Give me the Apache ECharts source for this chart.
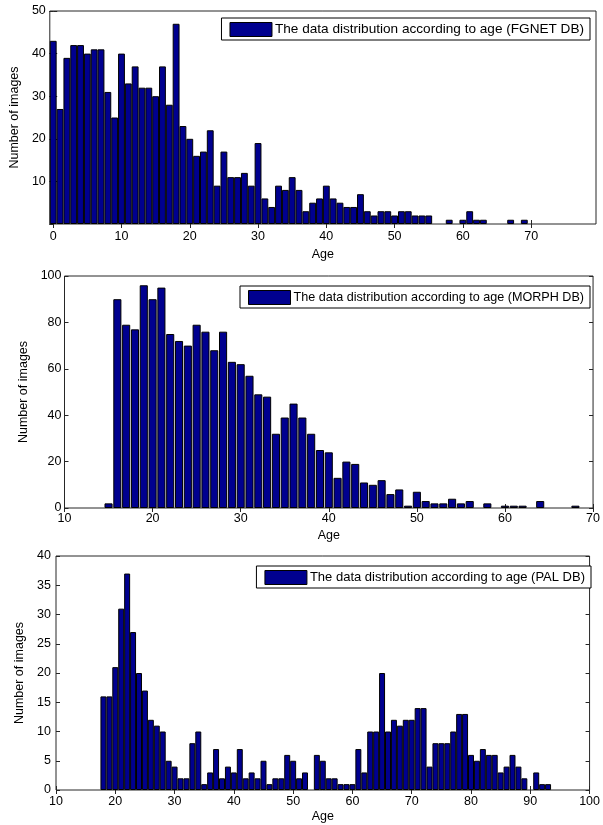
<!DOCTYPE html>
<html>
<head>
<meta charset="utf-8">
<script src="https://cdn.jsdelivr.net/npm/echarts@6/dist/echarts.min.js"></script>
<style>
html,body{margin:0;padding:0;background:#fff;}
#c{width:603px;height:825px;}
</style>
</head>
<body>
<div id="c"></div>
<script>
// ---- Data ----
const fgnetAges = [0,1,2,3,4,5,6,7,8,9,10,11,12,13,14,15,16,17,18,19,20,21,22,23,24,25,26,27,28,29,30,31,32,33,34,35,36,37,38,39,40,41,42,43,44,45,46,47,48,49,50,51,52,53,54,55,56,57,58,59,60,61,62,63,64,65,66,67,68,69];
const fgnetCounts = [43,27,39,42,42,40,41,41,31,25,40,33,37,32,32,30,37,28,47,23,20,16,17,22,9,17,11,11,12,9,19,6,4,9,8,11,8,3,5,6,9,6,5,4,4,7,3,2,3,3,2,3,3,2,2,2,0,0,1,0,1,3,1,1,0,0,0,1,0,1];

const morphAges = [15,16,17,18,19,20,21,22,23,24,25,26,27,28,29,30,31,32,33,34,35,36,37,38,39,40,41,42,43,44,45,46,47,48,49,50,51,52,53,54,55,56,57,58,59,60,61,62,63,64,65,66,67,68];
const morphCounts = [2,90,79,77,96,90,95,75,72,70,79,76,68,76,63,62,57,49,48,32,39,45,39,32,25,24,13,20,19,11,10,12,6,8,1,7,3,2,2,4,2,3,0,2,0,1,1,1,0,3,0,0,0,1];

const palAges = [18,19,20,21,22,23,24,25,26,27,28,29,30,31,32,33,34,35,36,37,38,39,40,41,42,43,44,45,46,47,48,49,50,51,52,53,54,55,56,57,58,59,60,61,62,63,64,65,66,67,68,69,70,71,72,73,74,75,76,77,78,79,80,81,82,83,84,85,86,87,88,89,90,91,92,93];
const palCounts = [16,16,21,31,37,27,20,17,12,11,10,5,4,2,2,8,10,1,3,7,2,4,3,7,2,3,2,5,1,2,2,6,5,2,3,0,6,5,2,2,1,1,1,7,3,10,10,20,10,12,11,12,12,14,14,4,8,8,8,10,13,13,6,5,7,6,6,3,4,6,4,2,0,3,1,1];

const fgnetXTicks = [0,10,20,30,40,50,60,70];
const seriesNames = [
  'The data distribution according to age (FGNET DB)',
  'The data distribution according to age (MORPH DB)',
  'The data distribution according to age (PAL DB)'
];
const xTitle = 'Age';
const yTitle = 'Number of images';

// ---- Chart ----
const FONT = 'Liberation Sans, Arial, sans-serif';
const AX = '#262626';
const BAR = '#00008F';
const chart = echarts.init(document.getElementById('c'), null, {renderer: 'canvas'});

const grids = [
  {left: 48, top: 11, width: 548, height: 213},
  {left: 64.5, top: 276, width: 531, height: 232},
  {left: 56, top: 556, width: 537, height: 234}
].map(g => Object.assign({show: true, borderColor: AX, borderWidth: 1, backgroundColor: '#fff', containLabel: false}, g));

function tick() { return {show: true, inside: true, length: 4, lineStyle: {color: AX, width: 1}}; }
const lbl = (m) => ({color: '#000', fontFamily: FONT, fontSize: 12.5, margin: m});
const nameStyle = {color: '#000', fontFamily: FONT, fontSize: 12.5};

const xAxes = [
  {gridIndex: 0, type: 'value', min: -0.5, max: 79.5, position: 'bottom',
   axisLine: {show: false}, splitLine: {show: false},
   axisTick: Object.assign(tick(), {customValues: fgnetXTicks}),
   axisLabel: Object.assign(lbl(6), {customValues: fgnetXTicks}),
   name: xTitle, nameLocation: 'middle', nameGap: 24, nameTextStyle: nameStyle},
  {gridIndex: 0, type: 'value', min: -0.5, max: 79.5, position: 'top',
   axisLine: {show: false}, splitLine: {show: false},
   axisTick: Object.assign(tick(), {customValues: fgnetXTicks}),
   axisLabel: {show: false}},
  {gridIndex: 1, type: 'value', min: 10, max: 70, interval: 10, position: 'bottom',
   axisLine: {show: false}, splitLine: {show: false}, axisTick: tick(), axisLabel: lbl(4),
   name: xTitle, nameLocation: 'middle', nameGap: 21, nameTextStyle: nameStyle},
  {gridIndex: 1, type: 'value', min: 10, max: 70, interval: 10, position: 'top',
   axisLine: {show: false}, splitLine: {show: false}, axisTick: tick(), axisLabel: {show: false}},
  {gridIndex: 2, type: 'value', min: 10, max: 100, interval: 10, position: 'bottom',
   axisLine: {show: false}, splitLine: {show: false}, axisTick: tick(), axisLabel: lbl(5),
   name: xTitle, nameLocation: 'middle', nameGap: 20, nameTextStyle: nameStyle},
  {gridIndex: 2, type: 'value', min: 10, max: 100, interval: 10, position: 'top',
   axisLine: {show: false}, splitLine: {show: false}, axisTick: tick(), axisLabel: {show: false}}
];

const yAxes = [
  {gridIndex: 0, type: 'value', min: 0, max: 50, interval: 10, position: 'left',
   axisLine: {show: false}, splitLine: {show: false}, axisTick: tick(),
   axisLabel: Object.assign(lbl(4), {showMinLabel: false}),
   name: yTitle, nameLocation: 'middle', nameGap: 27, nameTextStyle: nameStyle},
  {gridIndex: 0, type: 'value', min: 0, max: 50, interval: 10, position: 'right',
   axisLine: {show: false}, splitLine: {show: false}, axisTick: tick(), axisLabel: {show: false}},
  {gridIndex: 1, type: 'value', min: 0, max: 100, interval: 20, position: 'left',
   axisLine: {show: false}, splitLine: {show: false}, axisTick: tick(), axisLabel: lbl(3),
   name: yTitle, nameLocation: 'middle', nameGap: 33, nameTextStyle: nameStyle},
  {gridIndex: 1, type: 'value', min: 0, max: 100, interval: 20, position: 'right',
   axisLine: {show: false}, splitLine: {show: false}, axisTick: tick(), axisLabel: {show: false}},
  {gridIndex: 2, type: 'value', min: 0, max: 40, interval: 5, position: 'left',
   axisLine: {show: false}, splitLine: {show: false}, axisTick: tick(), axisLabel: lbl(5),
   name: yTitle, nameLocation: 'middle', nameGap: 28, nameTextStyle: nameStyle},
  {gridIndex: 2, type: 'value', min: 0, max: 40, interval: 5, position: 'right',
   axisLine: {show: false}, splitLine: {show: false}, axisTick: tick(), axisLabel: {show: false}}
];

function mk(name, ages, counts, xi, yi, bw) {
  return {
    name: name, type: 'bar', xAxisIndex: xi, yAxisIndex: yi,
    data: ages.map((a, i) => counts[i] === 0
      ? {value: [a, counts[i]], itemStyle: {borderWidth: 0, opacity: 0}}
      : {value: [a, counts[i]]}),
    barWidth: bw, barGap: '0%',
    itemStyle: {color: BAR, borderColor: '#000', borderWidth: 1},
    emphasis: {disabled: true}, animation: false
  };
}

function leg(name, top, right, fs) {
  return {
    data: [name], top: top, right: right, orient: 'horizontal',
    icon: 'rect', itemWidth: 42, itemHeight: 14, itemGap: 0,
    padding: [4, 6, 3, 8], borderColor: '#000', borderWidth: 1, backgroundColor: '#fff',
    selectedMode: false,
    itemStyle: {color: BAR, borderColor: '#000', borderWidth: 1, opacity: 1},
    textStyle: {color: '#000', fontFamily: FONT, fontSize: fs, padding: [0, 0, 0, -2]}
  };
}

chart.setOption({
  animation: false,
  backgroundColor: '#fff',
  grid: grids,
  xAxis: xAxes,
  yAxis: yAxes,
  legend: [
    leg(seriesNames[0], 18, 13, 13.6),
    leg(seriesNames[1], 286, 13, 12.6),
    leg(seriesNames[2], 566, 12, 13)
  ],
  series: [
    mk(seriesNames[0], fgnetAges, fgnetCounts, 0, 0, 6.85),
    mk(seriesNames[1], morphAges, morphCounts, 2, 2, 8.1),
    mk(seriesNames[2], palAges, palCounts, 4, 4, 5.97)
  ]
});
</script>
</body>
</html>
